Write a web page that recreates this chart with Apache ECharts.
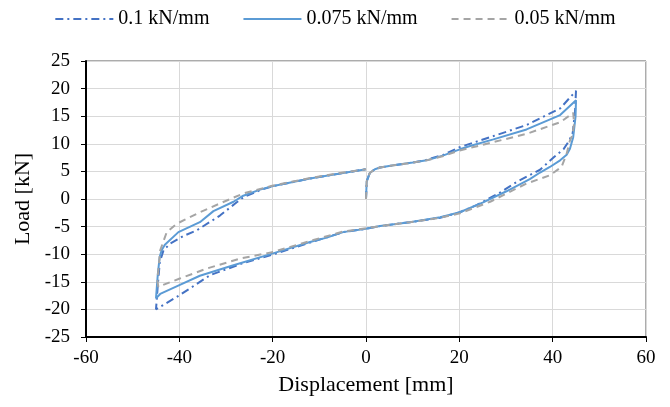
<!DOCTYPE html>
<html>
<head>
<meta charset="utf-8">
<script src="https://cdn.jsdelivr.net/npm/echarts@6/dist/echarts.min.js"></script>
<style>html,body{margin:0;padding:0;background:#fff}#c{width:670px;height:407px}</style>
</head>
<body>
<div id="c"></div>
<script>
const seriesNames = ['0.1 kN/mm', '0.075 kN/mm', '0.05 kN/mm'];
const xTicks = [-60, -40, -20, 0, 20, 40, 60];
const yTicks = [-25, -20, -15, -10, -5, 0, 5, 10, 15, 20, 25];

const x01 = [0, 0.15, 0.8, 1.9, 3, 5.9, 10, 13, 16.6, 20.1, 27.3, 34.4, 41.6, 45,
  44.8, 44.3, 43.5, 42.3, 40.3, 37.3, 32.3, 28.4, 23.7, 20.1, 15.9, 9.4, 3, 0, -4.9, -12, -20.1, -26.3, -33.4, -39.9, -45,
  -44.6, -44.2, -43.4, -42, -39.1, -36.3, -31.3, -27.7, -26.3, -22.7, -20.1, -12, -4.9, 0];
const y01 = [0, 3.2, 4.7, 5.4, 5.7, 6.1, 6.6, 7.1, 8.0, 9.4, 11.4, 13.4, 16.4, 19.6,
  16.0, 12.0, 10.5, 9.0, 7.6, 5.3, 3.1, 1.0, -1.1, -2.4, -3.4, -4.2, -4.9, -5.4, -6.0, -7.9, -10.1, -11.6, -13.8, -17.4, -20.0,
  -15.5, -11.5, -9.3, -8.1, -6.7, -5.7, -3.0, -0.6, 0.3, 1.6, 2.3, 3.7, 4.7, 5.4];

const x075 = [0, 0.15, 0.8, 1.9, 3, 5.9, 10, 13, 16.6, 20.1, 22.3, 27.3, 34.4, 41.6, 45,
  44.9, 44.4, 43.7, 43.0, 41.6, 39.4, 37.3, 35.1, 30.1, 25.1, 20.1, 15.9, 9.4, 3.0, 0, -4.9, -8.4, -12, -20.1, -28.4, -35.6, -40, -44.1, -45,
  -44.6, -44.2, -43.8, -43.1, -40.2, -35.6, -32.7, -28.4, -26.3, -22.7, -20.1, -12, -4.9, 0];
const y075 = [0, 3.2, 4.7, 5.4, 5.7, 6.1, 6.6, 7.0, 7.9, 9.0, 9.6, 10.8, 12.6, 15.2, 17.9,
  14.9, 11.2, 9.1, 8.0, 7.0, 5.8, 4.8, 3.6, 1.4, -0.6, -2.4, -3.3, -4.2, -4.9, -5.4, -6.0, -7.0, -7.8, -9.9, -12.0, -13.9, -15.6, -17.2, -18.0,
  -13.5, -10.5, -9.3, -8.3, -6.0, -4.2, -2.2, -0.5, 0.6, 1.7, 2.3, 3.7, 4.7, 5.4];

const x005 = [0, 0.15, 0.8, 1.9, 3, 5.9, 10, 13, 16.6, 20.1, 27.3, 34.4, 41.6, 44.4,
  44.6, 44.2, 43.7, 43.0, 41.9, 39.4, 34.4, 30.1, 26.6, 20.1, 15.9, 9.4, 3, 0, -4.9, -12, -19.9, -27, -34.1, -39.9, -44.5,
  -44.7, -44.1, -42.7, -40.6, -35.6, -31.3, -26.3, -20.1, -12, -4.9, 0];
const y005 = [0, 3.2, 4.7, 5.4, 5.7, 6.1, 6.6, 7.0, 7.8, 8.8, 10.3, 11.8, 13.9, 15.6,
  13.7, 11.5, 10.6, 8.2, 5.8, 4.3, 2.8, 1.0, -0.5, -2.6, -3.4, -4.2, -4.9, -5.3, -5.9, -7.6, -9.6, -10.8, -12.6, -14.4, -15.9,
  -14.7, -9.3, -6.0, -4.5, -2.4, -0.8, 1.0, 2.4, 3.8, 4.8, 5.4];

const zip = (xs, ys) => xs.map((v, i) => [v, ys[i]]);
const FONT = 'Liberation Serif';

const chart = echarts.init(document.getElementById('c'), null, {renderer: 'canvas'});
chart.setOption({
  animation: false,
  textStyle: {fontFamily: FONT},
  legend: {
    top: 4, left: 'center', itemWidth: 58, itemHeight: 10, itemGap: 33,
    itemStyle: {opacity: 0},
    textStyle: {fontFamily: FONT, fontSize: 20, color: '#000'},
    data: seriesNames
  },
  grid: {left: 86, right: 24, top: 61, bottom: 70, show: true, borderColor: '#595959', borderWidth: 1},
  xAxis: {
    type: 'value', min: xTicks[0], max: xTicks[xTicks.length - 1], interval: 20,
    name: 'Displacement [mm]', nameLocation: 'middle', nameGap: 37,
    nameTextStyle: {fontFamily: FONT, fontSize: 22, color: '#000'},
    axisLine: {onZero: false, lineStyle: {color: '#000', width: 2}},
    axisTick: {show: true, inside: false, length: 5, lineStyle: {color: '#000'}},
    axisLabel: {fontFamily: FONT, fontSize: 19, color: '#000', margin: 12},
    splitLine: {show: true, lineStyle: {color: '#D9D9D9', width: 1}}
  },
  yAxis: {
    type: 'value', min: yTicks[0], max: yTicks[yTicks.length - 1], interval: 5,
    name: 'Load [kN]', nameLocation: 'middle', nameGap: 45,
    nameTextStyle: {fontFamily: FONT, fontSize: 22, color: '#000'},
    axisLine: {onZero: false, lineStyle: {color: '#000', width: 2}},
    axisTick: {show: true, inside: false, length: 5, lineStyle: {color: '#000'}},
    axisLabel: {fontFamily: FONT, fontSize: 19, color: '#000', margin: 16},
    splitLine: {show: true, lineStyle: {color: '#D9D9D9', width: 1}}
  },
  series: [
    {name: seriesNames[0], type: 'line', data: zip(x01, y01), symbol: 'none', smooth: false,
     lineStyle: {color: '#4472C4', width: 2, type: [8, 4, 2, 4]}, itemStyle: {color: '#4472C4'}},
    {name: seriesNames[1], type: 'line', data: zip(x075, y075), symbol: 'none', smooth: false,
     lineStyle: {color: '#5B9BD5', width: 2, type: 'solid'}, itemStyle: {color: '#5B9BD5'}},
    {name: seriesNames[2], type: 'line', data: zip(x005, y005), symbol: 'none', smooth: false,
     lineStyle: {color: '#A5A5A5', width: 2, type: [7, 5]}, itemStyle: {color: '#A5A5A5'}}
  ]
});
</script>
</body>
</html>
